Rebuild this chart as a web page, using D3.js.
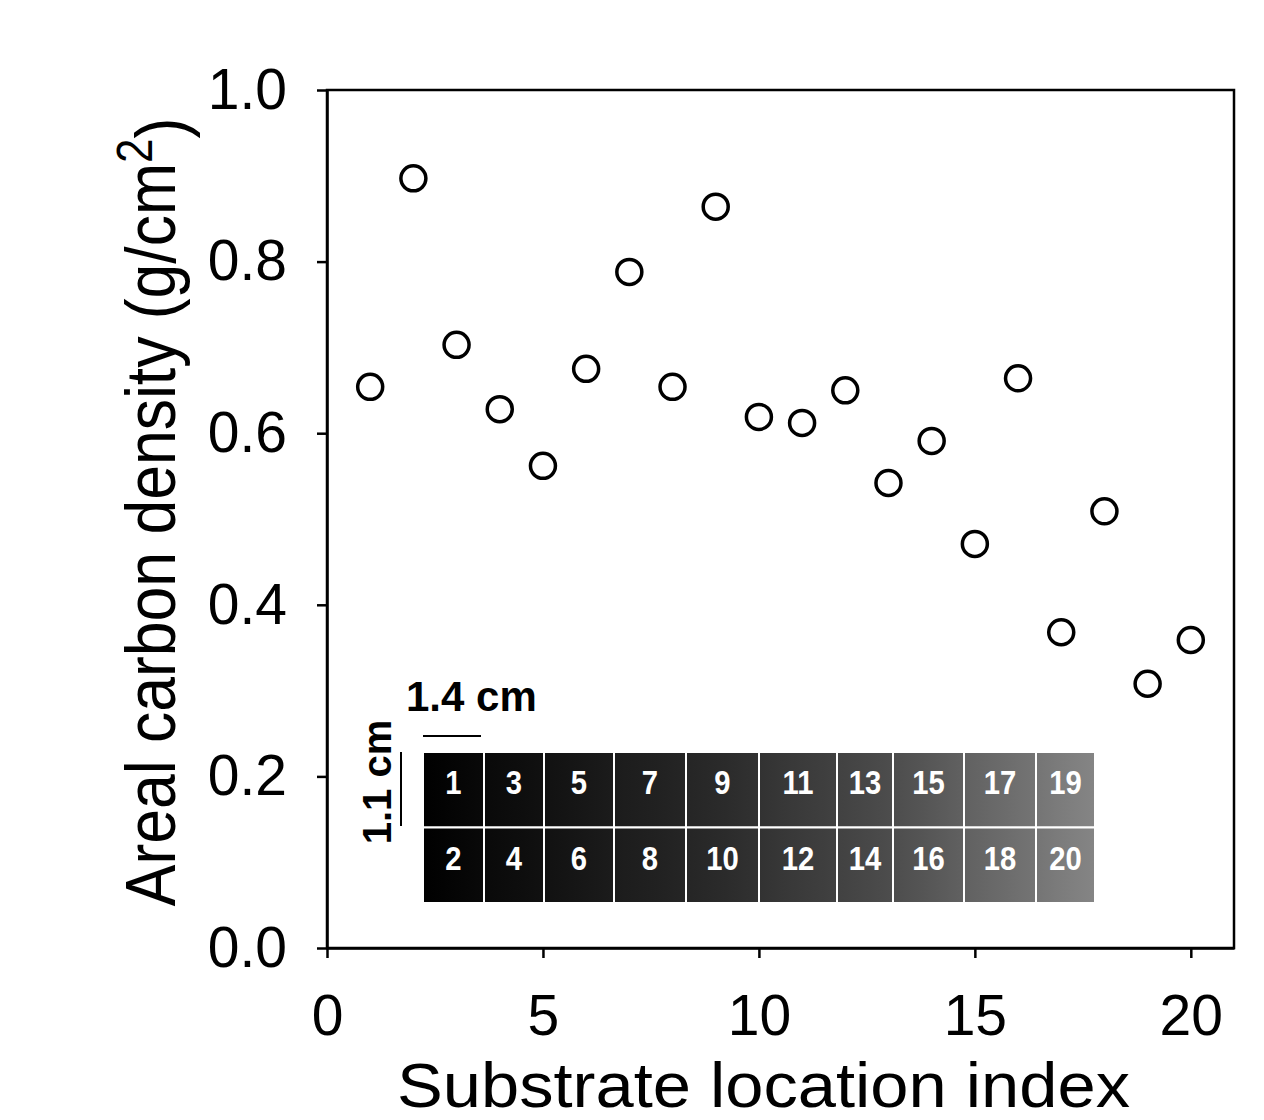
<!DOCTYPE html>
<html>
<head>
<meta charset="utf-8">
<script src="https://cdn.jsdelivr.net/npm/d3@7/dist/d3.min.js"></script>
<style>
  html, body { margin: 0; padding: 0; background: #fff; }
  svg { display: block; font-family: Arial, "Liberation Sans", sans-serif; }
</style>
</head>
<body>
<svg id="chart" width="1264" height="1120"></svg>
<script>
// substrate location index vs. areal carbon density
var locations = d3.range(1, 21);
var density = [0.654, 0.897, 0.703, 0.628, 0.562, 0.675, 0.788, 0.654, 0.864, 0.619,
               0.612, 0.650, 0.542, 0.591, 0.471, 0.664, 0.368, 0.509, 0.308, 0.359];

var xTicks = [0, 5, 10, 15, 20];
var yTicks = [0, 0.2, 0.4, 0.6, 0.8, 1.0];

// inset: substrate map, two rows of ten cells
var topRow = [1, 3, 5, 7, 9, 11, 13, 15, 17, 19];
var bottomRow = [2, 4, 6, 8, 10, 12, 14, 16, 18, 20];
var widthLabel = "1.4 cm";
var heightLabel = "1.1 cm";

//the cut pieces are not all the same width (relative units, layout only)
var cellWidths = [61, 60, 70, 72, 73, 78, 56, 71, 72, 59];

var svg = d3.select('#chart');

var x = d3.scaleLinear().domain([0, 21]).range([327, 1234]);
var y = d3.scaleLinear().domain([0, 1]).range([948, 90]);

//frame first, so the axes sit on top of it
svg.append('rect')
  .attr('x', x(0)).attr('y', y(1))
  .attr('width', x(21) - x(0)).attr('height', y(0) - y(1))
  .attr('fill', 'none').attr('stroke', '#000').attr('stroke-width', 2.5);

var xAxis = svg.append('g')
  .attr('transform', 'translate(0,' + y(0) + ')')
  .call(d3.axisBottom(x).tickValues(xTicks).tickFormat(d3.format('d'))
    .tickSize(10).tickSizeOuter(0).tickPadding(37));

var yAxis = svg.append('g')
  .attr('transform', 'translate(' + x(0) + ',0)')
  .call(d3.axisLeft(y).tickValues(yTicks).tickFormat(d3.format('.1f'))
    .tickSize(10).tickSizeOuter(0).tickPadding(30));

[xAxis, yAxis].forEach(function(g) {
  g.select('.domain').attr('stroke-width', 2.5);
  g.selectAll('.tick line').attr('stroke-width', 2.5);
  g.selectAll('.tick text')
    .attr('fill', '#000')
    .style('font-size', '57px')
    .style('font-family', 'Arial, "Liberation Sans", sans-serif');
});

svg.append('text')
  .attr('x', 397)
  .attr('y', 1107)
  .attr('textLength', 733)
  .attr('lengthAdjust', 'spacingAndGlyphs')
  .style('font-size', '63px')
  .text('Substrate location index');

//the original is a bit stretched across, so widen the glyphs a touch
var yTitle = svg.append('text')
  .attr('transform', 'translate(175,512)rotate(-90)scale(1,1.13)')
  .attr('text-anchor', 'middle')
  .style('font-size', '62.5px');
yTitle.append('tspan').text('Areal carbon density (g/cm');
yTitle.append('tspan').attr('dy', '-0.46em').style('font-size', '44px').text('2');
yTitle.append('tspan').attr('dy', '0.46em').text(')');

// ---- inset ----
var inset = svg.append('g');
var edges = [0].concat(Array.from(d3.cumsum(cellWidths)));
var cx = d3.scaleLinear().domain([0, d3.sum(cellWidths)]).range([423, 1095]);
var rowY = d3.scaleBand().domain([0, 1]).range([752, 903]);
var grey = d3.scaleLinear().domain([0, 0.45, 0.7, 1])
  .range(['#000000', '#2b2b2b', '#4d4d4d', '#858585']);

var grad = svg.append('defs').append('linearGradient')
  .attr('id', 'subGrad')
  .attr('gradientUnits', 'userSpaceOnUse')
  .attr('x1', 423).attr('x2', 1095).attr('y1', 0).attr('y2', 0);
grad.selectAll('stop')
  .data(d3.range(0, 1.0001, 0.05))
  .enter().append('stop')
  .attr('offset', function(d) { return d; })
  .attr('stop-color', function(d) { return grey(d); });

[topRow, bottomRow].forEach(function(row, r) {
  var cells = inset.selectAll('g.r' + r)
    .data(row)
    .enter().append('g').attr('class', 'r' + r);
  cells.append('rect')
    .attr('x', function(d, i) { return cx(edges[i]); })
    .attr('y', rowY(r))
    .attr('width', function(d, i) { return cx(edges[i + 1]) - cx(edges[i]); })
    .attr('height', rowY.bandwidth())
    .attr('fill', 'url(#subGrad)')
    .attr('stroke', '#fff')
    .attr('stroke-width', 2);
  //numbers in the photo are a narrow bold face; squeeze regular bold instead
  cells.append('text')
    .attr('transform', function(d, i) {
      return 'translate(' + (cx(edges[i]) + cx(edges[i + 1])) / 2 + ',' + (rowY(r) + 42) + ')scale(0.86,1)';
    })
    .attr('text-anchor', 'middle')
    .attr('fill', '#fff')
    .style('font-size', '34px')
    .style('font-weight', 'bold')
    .text(function(d) { return d; });
});

// scale bars
inset.append('line')
  .attr('x1', 423).attr('x2', 481).attr('y1', 736).attr('y2', 736)
  .attr('stroke', '#000').attr('stroke-width', 2);
inset.append('text')
  .attr('x', 406).attr('y', 711)
  .style('font-size', '42px').style('font-weight', 'bold')
  .text(widthLabel);
inset.append('line')
  .attr('x1', 401).attr('x2', 401).attr('y1', 752).attr('y2', 826)
  .attr('stroke', '#000').attr('stroke-width', 2);
inset.append('text')
  .attr('transform', 'translate(391,782)rotate(-90)')
  .attr('text-anchor', 'middle')
  .style('font-size', '40px').style('font-weight', 'bold')
  .text(heightLabel);

// ---- points ----
svg.append('g')
  .selectAll('circle')
  .data(density)
  .enter().append('circle')
  .attr('cx', function(d, i) { return x(locations[i]); })
  .attr('cy', function(d) { return y(d); })
  .attr('r', 12.5)
  .attr('fill', 'none')
  .attr('stroke', '#000')
  .attr('stroke-width', 3.5);
</script>
</body>
</html>
